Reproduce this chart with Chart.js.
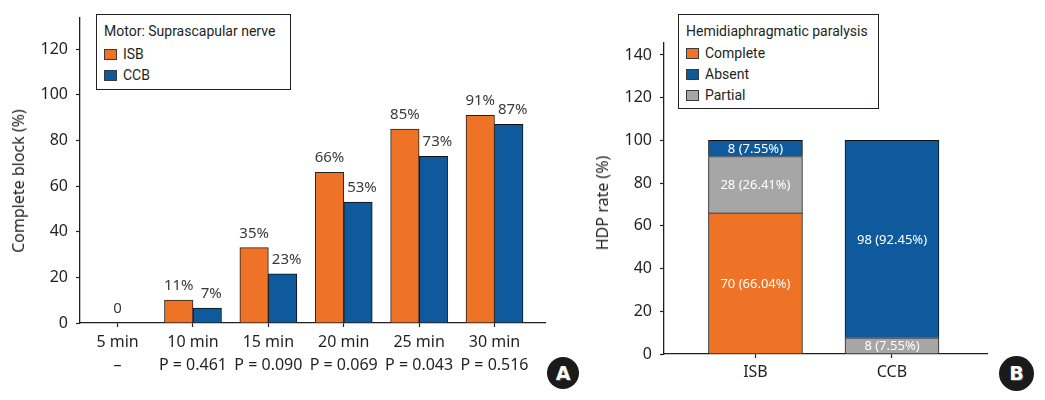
<!DOCTYPE html>
<html><head><meta charset="utf-8">
<script src="https://cdn.jsdelivr.net/npm/chart.js@4.4.1/dist/chart.umd.min.js"></script>
<style>
html,body{margin:0;padding:0;background:#fff;}
body{width:1045px;height:400px;position:relative;overflow:hidden;font-family:"Noto Sans",sans-serif;color:#231f20;}
canvas{position:absolute;top:0;}
#cA{left:0;}
#cB{left:560px;}
.legend{position:absolute;border:1px solid #231f20;background:#fff;font-family:Roboto,"Noto Sans",sans-serif;font-size:14px;z-index:2;}
.legend .ttl{position:absolute;left:7px;white-space:nowrap;line-height:16px;}
.legend .row{position:absolute;left:7px;white-space:nowrap;line-height:16px;}
.legend .sw{display:inline-block;width:13px;height:11px;border:1px solid #3a3a3a;vertical-align:-1px;margin-right:6px;box-sizing:border-box;}
.ytitle{position:absolute;white-space:nowrap;font-size:16px;transform:translate(-50%,-50%) rotate(-90deg);z-index:2;}
.badge{position:absolute;border-radius:50%;background:#1a1a1a;color:#fff;font-family:"DejaVu Sans",sans-serif;font-weight:bold;text-align:center;z-index:2;text-shadow:1px 1px 0 #555;}
</style>
</head><body>
<canvas id="cA" width="560" height="400"></canvas>
<canvas id="cB" width="485" height="400"></canvas>

<div class="ytitle" style="left:18px;top:181px;">Complete block (%)</div>
<div class="ytitle" style="left:602px;top:203px;">HDP rate (%)</div>

<div class="legend" style="left:96px;top:14px;width:193px;height:74px;">
  <div class="ttl" style="top:8px;">Motor: Suprascapular nerve</div>
  <div class="row" style="top:31px;"><span class="sw" style="background:#ee7326"></span>ISB</div>
  <div class="row" style="top:52px;"><span class="sw" style="background:#0e5a9c"></span>CCB</div>
</div>
<div class="legend" style="left:678px;top:14px;width:199px;height:93px;">
  <div class="ttl" style="top:8px;">Hemidiaphragmatic paralysis</div>
  <div class="row" style="top:30px;"><span class="sw" style="background:#ee7326"></span>Complete</div>
  <div class="row" style="top:51px;"><span class="sw" style="background:#0e5a9c"></span>Absent</div>
  <div class="row" style="top:72px;"><span class="sw" style="background:#a6a6a6"></span>Partial</div>
</div>

<div class="badge" style="left:547px;top:357px;width:32px;height:32px;line-height:32px;font-size:19px;">A</div>
<div class="badge" style="left:999px;top:356px;width:35px;height:35px;line-height:35px;font-size:19px;">B</div>

<script>
// ---------- Panel A data ----------
const TIMES = ["5 min", "10 min", "15 min", "20 min", "25 min", "30 min"];
const P_VALUES = ["\u2013", "P = 0.461", "P = 0.090", "P = 0.069", "P = 0.043", "P = 0.516"];
const ISB_BLOCK = [0, 10, 33, 66, 85, 91];
const CCB_BLOCK = [0, 6.5, 21.5, 53, 73, 87];
const ISB_LABELS = ["0", "11%", "35%", "66%", "85%", "91%"];
const CCB_LABELS = ["", "7%", "23%", "53%", "73%", "87%"];
const Y_TICKS_A = [0, 20, 40, 60, 80, 100, 120];

// ---------- Panel B data ----------
const GROUPS = ["ISB", "CCB"];
const HDP_COMPLETE = [66.04, 0];
const HDP_PARTIAL = [26.41, 7.55];
const HDP_ABSENT = [7.55, 92.45];
const COMPLETE_LABELS = ["70 (66.04%)", ""];
const PARTIAL_LABELS = ["28 (26.41%)", "8 (7.55%)"];
const ABSENT_LABELS = ["8 (7.55%)", "98 (92.45%)"];
const Y_TICKS_B = [0, 20, 40, 60, 80, 100, 120, 140];

const ORANGE = "#ee7326", BLUE = "#0e5a9c", GRAY = "#a6a6a6", INK = "#231f20";
const FONT = "'Noto Sans', sans-serif";

Chart.defaults.font.family = FONT;
Chart.defaults.color = INK;

const aboveLabels = {
  id: "aboveLabels",
  afterDatasetsDraw(chart) {
    const ctx = chart.ctx;
    ctx.save();
    ctx.font = "15px " + FONT;
    ctx.fillStyle = "#3a3a3a";
    ctx.textAlign = "center";
    ctx.textBaseline = "alphabetic";
    chart.data.datasets.forEach((ds, di) => {
      const meta = chart.getDatasetMeta(di);
      meta.data.forEach((bar, i) => {
        const t = ds.valueLabels[i];
        if (!t) return;
        const p = bar.getProps(["x", "y"], true);
        let x = p.x + (di === 1 ? 4 : 0);
        if (ds.data[i].y === 0) x = chart.scales.x.getPixelForValue(i);
        ctx.fillText(t, x, p.y - 10);
      });
    });
    ctx.restore();
  }
};

const insideLabels = {
  id: "insideLabels",
  afterDatasetsDraw(chart) {
    const ctx = chart.ctx;
    ctx.save();
    ctx.font = "13px " + FONT;
    ctx.fillStyle = "#ffffff";
    ctx.textAlign = "center";
    ctx.textBaseline = "middle";
    chart.data.datasets.forEach((ds, di) => {
      const meta = chart.getDatasetMeta(di);
      meta.data.forEach((bar, i) => {
        const t = ds.valueLabels[i];
        if (!t) return;
        const p = bar.getProps(["x", "y", "base"], true);
        ctx.fillText(t, p.x, (p.y + p.base) / 2 + 1);
      });
    });
    ctx.restore();
  }
};

const axisCommon = {
  border: { color: INK, width: 1.3 },
  grid: { drawOnChartArea: false, drawTicks: true, tickLength: 4, color: INK, tickWidth: 1.2 }
};

// ---------- Chart A ----------
new Chart(document.getElementById("cA"), {
  type: "bar",
  data: {
    datasets: [
      { label: "ISB", data: ISB_BLOCK.map((v, i) => ({ x: i, y: v })), valueLabels: ISB_LABELS,
        backgroundColor: ORANGE, borderColor: "#222", borderWidth: 1, barThickness: 28.5 },
      { label: "CCB", data: CCB_BLOCK.map((v, i) => ({ x: i, y: v })), valueLabels: CCB_LABELS,
        backgroundColor: BLUE, borderColor: "#111", borderWidth: 1, barThickness: 28.5 }
    ]
  },
  options: {
    responsive: false, animation: false, devicePixelRatio: 1,
    layout: { padding: { top: 13, right: 15, left: 0, bottom: 0 } },
    plugins: { legend: { display: false }, tooltip: { enabled: false } },
    scales: {
      x: {
        type: "linear", min: -0.499, max: 5.67, offset: false,
        ...axisCommon,
        grid: { ...axisCommon.grid, offset: false },
        afterBuildTicks: s => { s.ticks = TIMES.map((t, i) => ({ value: i })); },
        afterFit: s => { s.height = 77; },
        ticks: {
          autoSkip: false, maxRotation: 0, padding: 4,
          font: { size: 16, lineHeight: 1.42 }, color: INK,
          callback: v => [TIMES[v], P_VALUES[v]]
        }
      },
      y: {
        min: 0, max: 133.8,
        ...axisCommon,
        afterBuildTicks: s => { s.ticks = Y_TICKS_A.map(v => ({ value: v })); },
        afterFit: s => { s.width = 80; },
        ticks: { padding: 8, font: { size: 16 }, color: INK }
      }
    }
  },
  plugins: [aboveLabels]
});

// ---------- Chart B ----------
new Chart(document.getElementById("cB"), {
  type: "bar",
  data: {
    datasets: [
      { label: "Complete", data: HDP_COMPLETE.map((v, i) => ({ x: i + 1, y: v })), valueLabels: COMPLETE_LABELS,
        backgroundColor: ORANGE, borderColor: "#222", borderWidth: 1, barThickness: 94 },
      { label: "Partial", data: HDP_PARTIAL.map((v, i) => ({ x: i + 1, y: v })), valueLabels: PARTIAL_LABELS,
        backgroundColor: GRAY, borderColor: "#222", borderWidth: 1, barThickness: 94 },
      { label: "Absent", data: HDP_ABSENT.map((v, i) => ({ x: i + 1, y: v })), valueLabels: ABSENT_LABELS,
        backgroundColor: BLUE, borderColor: "#111", borderWidth: 1, barThickness: 94 }
    ]
  },
  options: {
    responsive: false, animation: false, devicePixelRatio: 1,
    layout: { padding: { top: 43, right: 58, left: 0, bottom: 0 } },
    plugins: { legend: { display: false }, tooltip: { enabled: false } },
    scales: {
      x: {
        type: "linear", min: 0.33, max: 2.696, stacked: true, offset: false,
        ...axisCommon,
        grid: { ...axisCommon.grid, offset: false },
        afterBuildTicks: s => { s.ticks = GROUPS.map((g, i) => ({ value: i + 1 })); },
        afterFit: s => { s.height = 46; },
        ticks: { autoSkip: false, maxRotation: 0, padding: 5, font: { size: 16 }, color: INK,
          callback: v => GROUPS[v - 1] }
      },
      y: {
        min: 0, max: 145.6, stacked: true,
        ...axisCommon,
        afterBuildTicks: s => { s.ticks = Y_TICKS_B.map(v => ({ value: v })); },
        afterFit: s => { s.width = 104; },
        ticks: { padding: 8, font: { size: 16 }, color: INK }
      }
    }
  },
  plugins: [insideLabels]
});
</script>
</body></html>
